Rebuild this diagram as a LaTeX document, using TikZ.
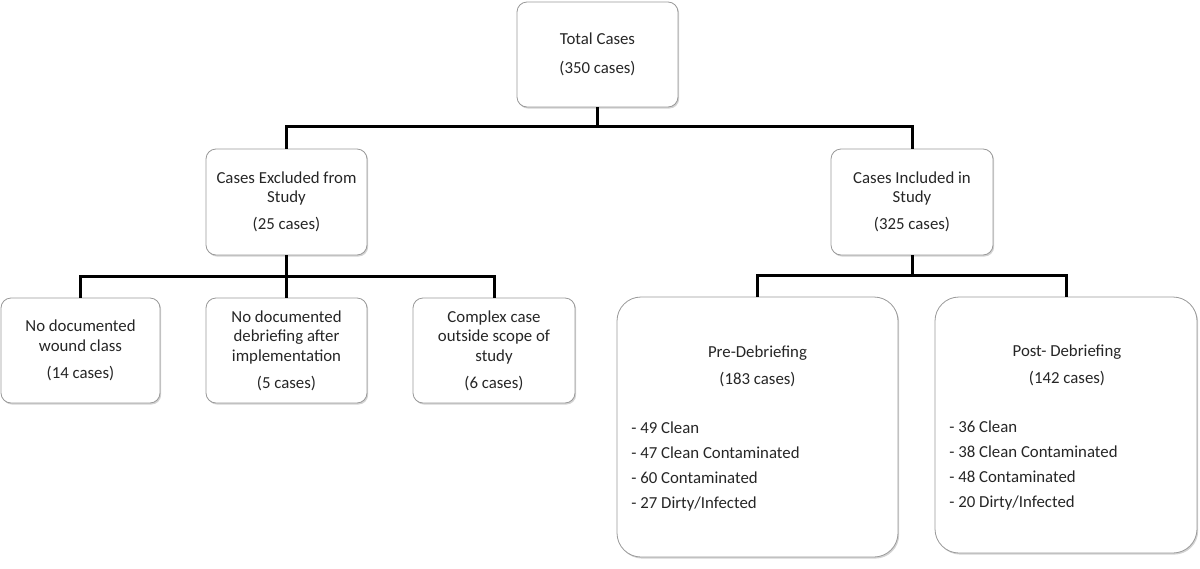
\documentclass[tikz,border=0pt]{standalone}
\usepackage{fontspec}
\setmainfont{Carlito}
\usetikzlibrary{positioning,shadows}

\begin{document}
\begin{tikzpicture}[
    x=0.5pt, y=-0.5pt,
    inner sep=0pt, %text sits close to its anchor
    box/.style={draw=black!40,fill=white,rounded corners=5pt,thin,
        drop shadow={opacity=0.35,shadow xshift=0.6pt,shadow yshift=-0.8pt},
        align=center,text=black!85},
    bigbox/.style={box,rounded corners=12pt},
    conn/.style={draw=black,line width=1.5pt},
    txt/.style={align=center,text=black!85},
    lst/.style={align=left,text=black!85,
        font=\fontsize{8.4}{12.5}\selectfont},
    font=\fontsize{8.4}{9.8}\selectfont,
    ]

    \useasboundingbox (0,0) rectangle (1200,568);

    %top
    \node[box,minimum width=80.5pt,minimum height=52.5pt] (total) at (597.5,54.5)
        {Total Cases\\[4.7pt](350 cases)};

    %second row
    \node[box,minimum width=80.5pt,minimum height=53pt] (excl) at (286.5,202)
        {Cases Excluded from\\Study\\[3.7pt](25 cases)};
    \node[box,minimum width=81pt,minimum height=53pt] (incl) at (912,202)
        {Cases Included in\\Study\\[3.7pt](325 cases)};

    %excluded cases
    \node[box,minimum width=79.5pt,minimum height=52.5pt] (nowound) at (80.5,350.5)
        {No documented\\wound class\\[3.7pt](14 cases)};
    \node[box,minimum width=80.5pt,minimum height=52.5pt] (nodebrief) at (286.5,350.5)
        {No documented\\debriefing after\\implementation\\[3.7pt](5 cases)};
    \node[box,minimum width=81pt,minimum height=52.5pt] (complex) at (494,350.5)
        {Complex case\\outside scope of\\study\\[3.7pt](6 cases)};

    %included cases
    \node[bigbox,minimum width=140.5pt,minimum height=130pt] (pre) at (757.5,427) {};
    \node[bigbox,minimum width=131pt,minimum height=128pt] (post) at (1066,425) {};

    \node[txt,anchor=north] (pretitle) at (757.5,345)
        {Pre-Debriefing\\[3.7pt](183 cases)};
    \node[lst,anchor=north west] (prelist) at (631,421)
        {- 49 Clean\\- 47 Clean Contaminated\\- 60 Contaminated\\- 27 Dirty/Infected};

    \node[txt,anchor=north] (posttitle) at (1067,344)
        {Post- Debriefing\\[3.7pt](142 cases)};
    \node[lst,anchor=north west] (postlist) at (949,420)
        {- 36 Clean\\- 38 Clean Contaminated\\- 48 Contaminated\\- 20 Dirty/Infected};

    %connectors
    \draw[conn] (total.south) -- ++(0,19) -| (excl.north);
    \draw[conn] (total.south) -- ++(0,19) -| (incl.north);
    \draw[conn] (excl.south) -- ++(0,21) -| (nowound.north);
    \draw[conn] (excl.south) -- ++(0,21) -| (complex.north);
    \draw[conn] (excl.south) -- (nodebrief.north);
    \draw[conn] (incl.south) -- ++(0,20) -| (pre.north);
    \draw[conn] (incl.south) -- ++(0,20) -| (post.north);

\end{tikzpicture}
\end{document}
